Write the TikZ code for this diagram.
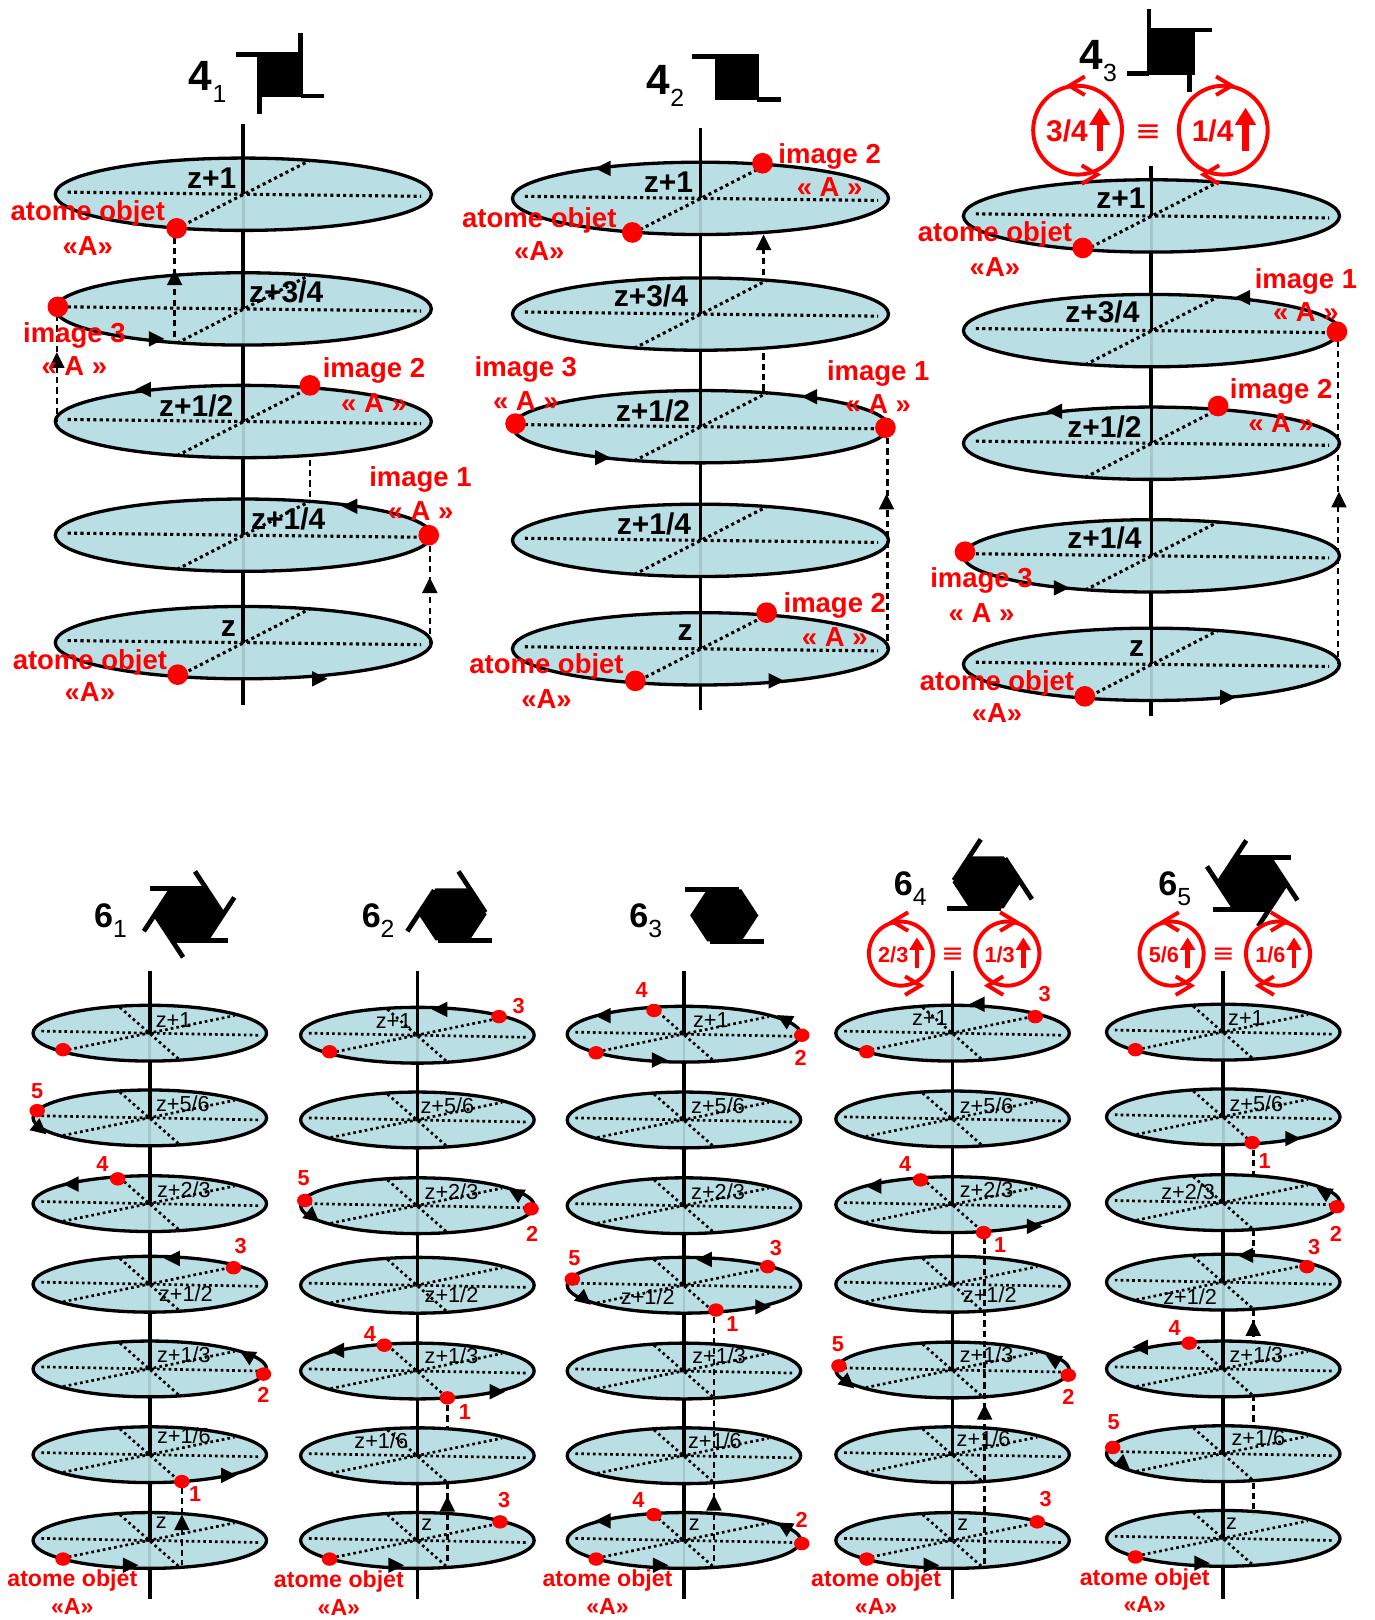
\documentclass[tikz,border=0pt]{standalone}
\usepackage{fontspec}
\setmainfont{Liberation Sans}
\newfontfamily\symfont{DejaVu Sans}
\definecolor{discblue}{HTML}{B9DEE3}
\definecolor{faintaxis}{HTML}{A6C6CB}
\newcount\nodeno
\tikzset{
  x=1pt,y=-1pt,
  axisline/.style={line width=3.6pt,black},
  rimline/.style={line width=3.2pt,black},
  dotline/.style={line width=3pt,black,dash pattern=on 3pt off 3.2pt},
  dotlinesix/.style={line width=2.6pt,black,dash pattern=on 2.6pt off 3pt},
  dashline/.style={line width=2.5pt,black,dash pattern=on 6pt off 4pt},
  txt/.style={inner sep=0pt,outer sep=0pt,anchor=center},
  atombig/.style={circle,fill=red,inner sep=0pt,minimum size=20pt},
  atomsix/.style={ellipse,fill=red,inner sep=0pt,minimum width=15pt,minimum height=13pt},
  redline/.style={line width=3.8pt,red},
}
\usetikzlibrary{shapes.geometric}
\newcommand\lab[4]{\global\advance\nodeno by 1 \node[txt,#1] (n\the\nodeno) at (#2,#3) {#4};}
\newcommand\bigred[3]{\lab{text=red,yshift=-2pt}{#1}{#2}{\fontsize{26.6}{28}\selectfont\bfseries #3}}
\newcommand\biga[3]{\lab{text=red}{#1}{#2}{\fontsize{26.6}{28}\selectfont\bfseries #3}}
\newcommand\smallred[3]{\lab{text=red,yshift=-1pt}{#1}{#2}{\fontsize{22.4}{24}\selectfont\bfseries #3}}
\newcommand\smalla[3]{\lab{text=red}{#1}{#2}{\fontsize{22.4}{24}\selectfont\bfseries #3}}
\newcommand\num[3]{\lab{text=red}{#1}{#2}{\fontsize{21}{22}\selectfont\bfseries #3}}
\newcommand\zbig[3]{\lab{}{#1}{#2}{\fontsize{29}{30}\selectfont\bfseries #3}}
\newcommand\zsix[3]{\lab{text=black}{#1}{#2}{\fontsize{21}{22}\selectfont #3}}
\newcommand\adot[2]{\global\advance\nodeno by 1 \node[atombig] (n\the\nodeno) at (#1,#2) {};}
\newcommand\sdot[2]{\global\advance\nodeno by 1 \node[atomsix] (n\the\nodeno) at (#1,#2) {};}
\newcommand\tri[3]{\fill[black,shift={(#1,#2)},rotate=#3] (9,0)--(-6,7.5)--(-6,-7.5)--cycle;}
\newcommand\fdisc[2]{%
  \fill[discblue] (#1,#2) ellipse [x radius=182,y radius=35];
  \draw[faintaxis,line width=3pt] (#1,#2)--(#1,{#2+35});
  \draw[dotline] ({#1-170},{#2-2})--({#1+172},{#2+2});
  \draw[dotline] ({#1-64},{#2+33})--({#1+65},{#2-33});
  \draw[rimline] (#1,#2) ellipse [x radius=182,y radius=35];
  \draw[axisline] (#1,{#2-35})--(#1,#2);
}
\newcommand\sdisc[2]{%
  \fill[discblue] (#1,#2) ellipse [x radius=113,y radius=27];
  \draw[faintaxis,line width=2.6pt] (#1,#2)--(#1,{#2+27});
  \draw[dotlinesix] ({#1-105},{#2-2})--({#1+107},{#2+2});
  \draw[dotlinesix] ({#1-84},{#2+17})--({#1+82},{#2-17});
  \draw[dotlinesix] ({#1-29},{#2-25})--({#1+28},{#2+25});
  \draw[rimline] (#1,#2) ellipse [x radius=113,y radius=27];
  \draw[axisline] (#1,{#2-27})--(#1,#2);
}
% hexagon: centre x, y, flags extended anticlockwise, flags extended clockwise
\newcommand\hexsym[4]{%
  \fill[black,shift={(#1,#2)},yscale=.88] (-33,0)--(-16.5,-28.6)--(16.5,-28.6)--(33,0)--(16.5,28.6)--(-16.5,28.6)--cycle;
  \foreach \k in {#3}{\draw[line width=4.6pt,shift={(#1,#2)},yscale=.88,rotate=-\k*60] (14,-28.6)--(-38,-28.6);}
  \foreach \k in {#4}{\draw[line width=4.6pt,shift={(#1,#2)},yscale=.88,rotate=-\k*60] (-14,-28.6)--(38,-28.6);}
}
% red screw circle: x, y, r, text, font size, direction (+1: top chevron points left)
\newcommand\screw[6]{%
  \draw[redline] (#1,#2) circle [radius=#3];
  \draw[redline] ({#1+#6*7},{#2-#3-9})--({#1-#6*8},{#2-#3})--({#1+#6*7},{#2-#3+9});
  \draw[redline] ({#1-#6*(-4)},{#2+#3-9})--({#1-#6*(-4)-#6*(-15)},{#2+#3})--({#1-#6*(-4)},{#2+#3+9});
  \draw[red,line width={.14*#3 pt}] ({#1+.5*#3},{#2+.46*#3})--({#1+.5*#3},{#2-.2*#3});
  \fill[red] ({#1+.5*#3-.24*#3},{#2-.12*#3})--({#1+.5*#3},{#2-.5*#3})--({#1+.5*#3+.24*#3},{#2-.12*#3})--cycle;
  \lab{text=red}{{#1-.24*#3}}{{#2+1}}{\fontsize{#5}{#5}\selectfont\bfseries #4}
}
\newcommand\equi[3]{\lab{text=red}{#1}{#2}{\fontsize{#3}{#3}\selectfont\symfont ≡}}
\newcommand\titl[6]{\lab{}{#1}{#2}{\fontsize{#3}{#3}\selectfont\bfseries #5\raisebox{-.28em}{\fontsize{#4}{#4}\selectfont\mdseries #6}}}
\begin{document}
\begin{tikzpicture}
\useasboundingbox (0,0) rectangle (1330,1568);
\fill[white] (0,0) rectangle (1330,1568);

% ---- axes
\draw[axisline] (235,120)--(235,682);
\draw[axisline] (678,124)--(678,687);
\draw[axisline] (1114,161)--(1114,693);
\foreach \c in {145,404,662,922,1184}{\draw[axisline] (\c,940)--(\c,1548);}

% ---- 4-fold discs
\foreach \y in {188,299,408,518,622}{\fdisc{235.5}{\y}}
\foreach \y in {192,304,413,523,628}{\fdisc{678}{\y}}
\foreach \y in {209,320,429,538,643}{\fdisc{1114.5}{\y}}
% ---- 6-fold discs
\foreach \y in {1000,1082,1165,1243,1325,1408,1491}{\sdisc{145}{\y}}
\foreach \y in {1002,1084,1167,1244,1327,1409,1491}{\sdisc{404}{\y}}
\foreach \y in {1001,1084,1167,1244,1327,1409,1491}{\sdisc{662}{\y}}
\foreach \y in {1000,1083,1166,1243,1326,1408,1491}{\sdisc{922}{\y}}
\foreach \y in {999,1081,1164,1241,1325,1407,1489}{\sdisc{1184}{\y}}

% ---- 4-fold symbols
\fill (249,51) rectangle (292,94);
\draw[line width=4.6pt] (228,52.5)--(292,52.5) (291,32)--(291,94) (291,93)--(314,93) (251,94)--(251,110);
\fill (692,54) rectangle (735,97);
\draw[line width=4.6pt] (670,55)--(735,55) (733,96)--(756,96);
\fill (1110,27) rectangle (1157,73);
\draw[line width=4.6pt] (1112,9)--(1112,30) (1155,29)--(1173,29) (1091,71)--(1112,71) (1151,73)--(1151,89);

% ---- hexagon symbols
\hexsym{183}{885}{0,1,2,3,4,5}{}
\hexsym{438}{885}{1,3,5}{}
\hexsym{701}{886}{0,3}{}
\hexsym{955}{854}{}{1,3,5}
\hexsym{1212}{855}{}{0,1,2,3,4,5}

% ---- screw circles
\screw{1043}{126}{43}{3/4}{29}{1}
\screw{1184}{126}{43}{1/4}{29}{-1}
\screw{872}{923}{31}{2/3}{21}{1}
\screw{975}{923}{31}{1/3}{21}{-1}
\screw{1134}{923}{31}{5/6}{21}{1}
\screw{1237}{923}{31}{1/6}{21}{-1}
\equi{1112}{129}{30}
\equi{922}{925}{26}
\equi{1184}{925}{26}

% ---- dashed translations
\draw[dashline] (169,230)--(169,333);
\draw[dashline] (55,305)--(55,408);
\draw[dashline] (300,445)--(300,482);
\draw[dashline] (416,528)--(416,622);
\draw[dashline] (739,240)--(739,270);
\draw[dashline] (739,342)--(739,380);
\draw[dashline] (859,424)--(859,628);
\draw[dashline] (1295,330)--(1295,643);
\draw[dashline] (176,1440)--(176,1515);
\draw[dashline] (433,1360)--(433,1383);
\draw[dashline] (433,1435)--(433,1515);
\draw[dashline] (691,1275)--(691,1515);
\draw[dashline] (953,1198)--(953,1515);
\draw[dashline] (1213,1113)--(1213,1136);
\draw[dashline] (1213,1190)--(1213,1220);
\draw[dashline] (1213,1268)--(1213,1298);
\draw[dashline] (1213,1350)--(1213,1382);
\draw[dashline] (1213,1435)--(1213,1465);

% ---- arrowheads
\tri{169}{270}{90}\tri{55}{350}{90}\tri{416}{568}{90}
\tri{150}{328}{0}\tri{140}{377}{180}\tri{340}{490}{180}\tri{308}{657}{0}
\tri{739}{236}{90}\tri{858}{487}{90}
\tri{585}{163}{180}\tri{785}{384}{180}\tri{582}{443}{0}\tri{750}{659}{0}
\tri{1296}{485}{90}
\tri{1204}{288}{180}\tri{1022}{398}{180}\tri{1026}{569}{0}\tri{1187}{675}{0}
% 6_1
\tri{176}{1475}{90}\tri{38}{1092}{-40}\tri{70}{1146}{180}\tri{168}{1218}{180}\tri{240}{1312}{150}\tri{220}{1428}{0}\tri{125}{1515}{0}
% 6_2
\tri{433}{1457}{90}\tri{427}{977}{180}\tri{500}{1155}{150}\tri{302}{1177}{-40}\tri{327}{1307}{180}\tri{480}{1347}{0}\tri{382}{1515}{0}
% 6_3
\tri{691}{1456}{90}\tri{585}{983}{180}\tri{760}{987}{150}\tri{637}{1026}{0}\tri{683}{1219}{180}\tri{565}{1257}{-40}\tri{737}{1265}{0}\tri{585}{1472}{180}\tri{760}{1478}{150}\tri{638}{1515}{0}
% 6_4
\tri{953}{1368}{90}\tri{947}{972}{180}\tri{847}{1148}{180}\tri{1000}{1187}{0}\tri{820}{1338}{-40}\tri{1020}{1316}{150}\tri{900}{1515}{0}
% 6_5
\tri{1213}{1287}{90}\tri{1250}{1102}{0}\tri{1282}{1154}{150}\tri{1207}{1215}{180}\tri{1105}{1304}{180}\tri{1087}{1417}{-40}\tri{1162}{1513}{0}

% ---- atoms 4-fold
\adot{171}{221}\adot{56}{297}\adot{300}{373}\adot{415}{518}\adot{172}{653}
\adot{738}{158}\adot{612}{225}\adot{499}{410}\adot{857}{414}\adot{742}{593}\adot{615}{659}
\adot{1048}{240}\adot{1294}{321}\adot{1179}{393}\adot{934}{534}\adot{1050}{674}
% ---- atoms 6-fold
\sdot{61}{1016}\sdot{36}{1075}\sdot{114}{1141}\sdot{226}{1227}\sdot{255}{1330}\sdot{176}{1434}\sdot{61}{1509}
\sdot{483}{984}\sdot{319}{1018}\sdot{295}{1162}\sdot{514}{1170}\sdot{372}{1302}\sdot{433}{1353}\sdot{484}{1473}\sdot{319}{1509}
\sdot{633}{978}\sdot{776}{1002}\sdot{577}{1019}\sdot{743}{1226}\sdot{554}{1238}\sdot{693}{1268}\sdot{633}{1466}\sdot{776}{1494}\sdot{577}{1509}
\sdot{1002}{984}\sdot{839}{1018}\sdot{891}{1142}\sdot{952}{1193}\sdot{812}{1322}\sdot{1034}{1331}\sdot{1004}{1473}\sdot{839}{1509}
\sdot{1099}{1016}\sdot{1212}{1106}\sdot{1294}{1168}\sdot{1265}{1226}\sdot{1151}{1300}\sdot{1077}{1401}\sdot{1099}{1507}

% ---- z labels 4-fold
\zbig{205}{172}{z+1}\zbig{277}{283}{z+3/4}\zbig{190}{393}{z+1/2}\zbig{279}{502}{z+1/4}\zbig{221}{608}{z}
\zbig{647}{176}{z+1}\zbig{630}{286}{z+3/4}\zbig{632}{398}{z+1/2}\zbig{633}{507}{z+1/4}\zbig{663}{612}{z}
\zbig{1085}{192}{z+1}\zbig{1067}{302}{z+3/4}\zbig{1069}{413}{z+1/2}\zbig{1069}{521}{z+1/4}\zbig{1100}{628}{z}
% ---- z labels 6-fold
\zsix{168}{987}{z+1}\zsix{177}{1068}{z+5/6}\zsix{178}{1152}{z+2/3}\zsix{180}{1252}{z+1/2}\zsix{178}{1311}{z+1/3}\zsix{178}{1390}{z+1/6}\zsix{156}{1474}{z}
\zsix{381}{988}{z+1}\zsix{433}{1070}{z+5/6}\zsix{437}{1153}{z+2/3}\zsix{437}{1253}{z+1/2}\zsix{437}{1312}{z+1/3}\zsix{369}{1394}{z+1/6}\zsix{413}{1476}{z}
\zsix{688}{987}{z+1}\zsix{695}{1070}{z+5/6}\zsix{695}{1153}{z+2/3}\zsix{627}{1255}{z+1/2}\zsix{696}{1312}{z+1/3}\zsix{692}{1394}{z+1/6}\zsix{672}{1476}{z}
\zsix{900}{985}{z+1}\zsix{955}{1070}{z+5/6}\zsix{955}{1152}{z+2/3}\zsix{958}{1253}{z+1/2}\zsix{955}{1311}{z+1/3}\zsix{952}{1393}{z+1/6}\zsix{932}{1476}{z}
\zsix{1206}{985}{z+1}\zsix{1216}{1068}{z+5/6}\zsix{1150}{1153}{z+2/3}\zsix{1152}{1255}{z+1/2}\zsix{1216}{1311}{z+1/3}\zsix{1218}{1392}{z+1/6}\zsix{1192}{1475}{z}

% ---- red labels 4-fold
\bigred{85}{205}{atome objet}\biga{85}{238}{«A»}
\bigred{72}{323}{image 3}\biga{72}{354}{« A »}
\bigred{362}{357}{image 2}\biga{362}{390}{« A »}
\bigred{407}{462}{image 1}\biga{407}{495}{« A »}
\bigred{87}{639}{atome objet}\biga{87}{670}{«A»}
\bigred{803}{149}{image 2}\biga{803}{181}{« A »}
\bigred{522}{211}{atome objet}\biga{522}{243}{«A»}
\bigred{509}{356}{image 3}\biga{509}{388}{« A »}
\bigred{850}{359}{image 1}\biga{850}{391}{« A »}
\bigred{808}{584}{image 2}\biga{808}{617}{« A »}
\bigred{529}{643}{atome objet}\biga{529}{677}{«A»}
\bigred{963}{225}{atome objet}\biga{963}{258}{«A»}
\bigred{1264}{270}{image 1}\biga{1264}{302}{« A »}
\bigred{1240}{377}{image 2}\biga{1240}{409}{« A »}
\bigred{950}{560}{image 3}\biga{950}{593}{« A »}
\bigred{965}{659}{atome objet}\biga{965}{690}{«A»}

% ---- red labels 6-fold
\smallred{70}{1529}{atome objet}\smalla{70}{1555}{«A»}
\smallred{328}{1530}{atome objet}\smalla{328}{1556}{«A»}
\smallred{588}{1529}{atome objet}\smalla{588}{1555}{«A»}
\smallred{848}{1529}{atome objet}\smalla{848}{1555}{«A»}
\smallred{1108}{1528}{atome objet}\smalla{1108}{1553}{«A»}
\num{36}{1056}{5}\num{99}{1127}{4}\num{233}{1206}{3}\num{255}{1350}{2}\num{189}{1446}{1}
\num{502}{974}{3}\num{294}{1140}{5}\num{515}{1194}{2}\num{358}{1291}{4}\num{450}{1367}{1}\num{488}{1452}{3}
\num{621}{958}{4}\num{775}{1024}{2}\num{751}{1208}{3}\num{556}{1218}{5}\num{709}{1282}{1}\num{618}{1452}{4}\num{776}{1471}{2}
\num{1011}{962}{3}\num{876}{1127}{4}\num{968}{1205}{1}\num{811}{1301}{5}\num{1034}{1352}{2}\num{1012}{1451}{3}
\num{1224}{1124}{1}\num{1293}{1194}{2}\num{1272}{1207}{3}\num{1137}{1285}{4}\num{1078}{1376}{5}

% ---- titles
\titl{201}{79}{41}{24}{4}{1}
\titl{644}{83}{41}{24}{4}{2}
\titl{1063}{59}{41}{24}{4}{3}
\titl{107}{891}{33}{24}{6}{1}
\titl{366}{891}{33}{24}{6}{2}
\titl{625}{891}{33}{24}{6}{3}
\titl{881}{860}{33}{24}{6}{4}
\titl{1137}{860}{33}{24}{6}{5}
\end{tikzpicture}
\end{document}
